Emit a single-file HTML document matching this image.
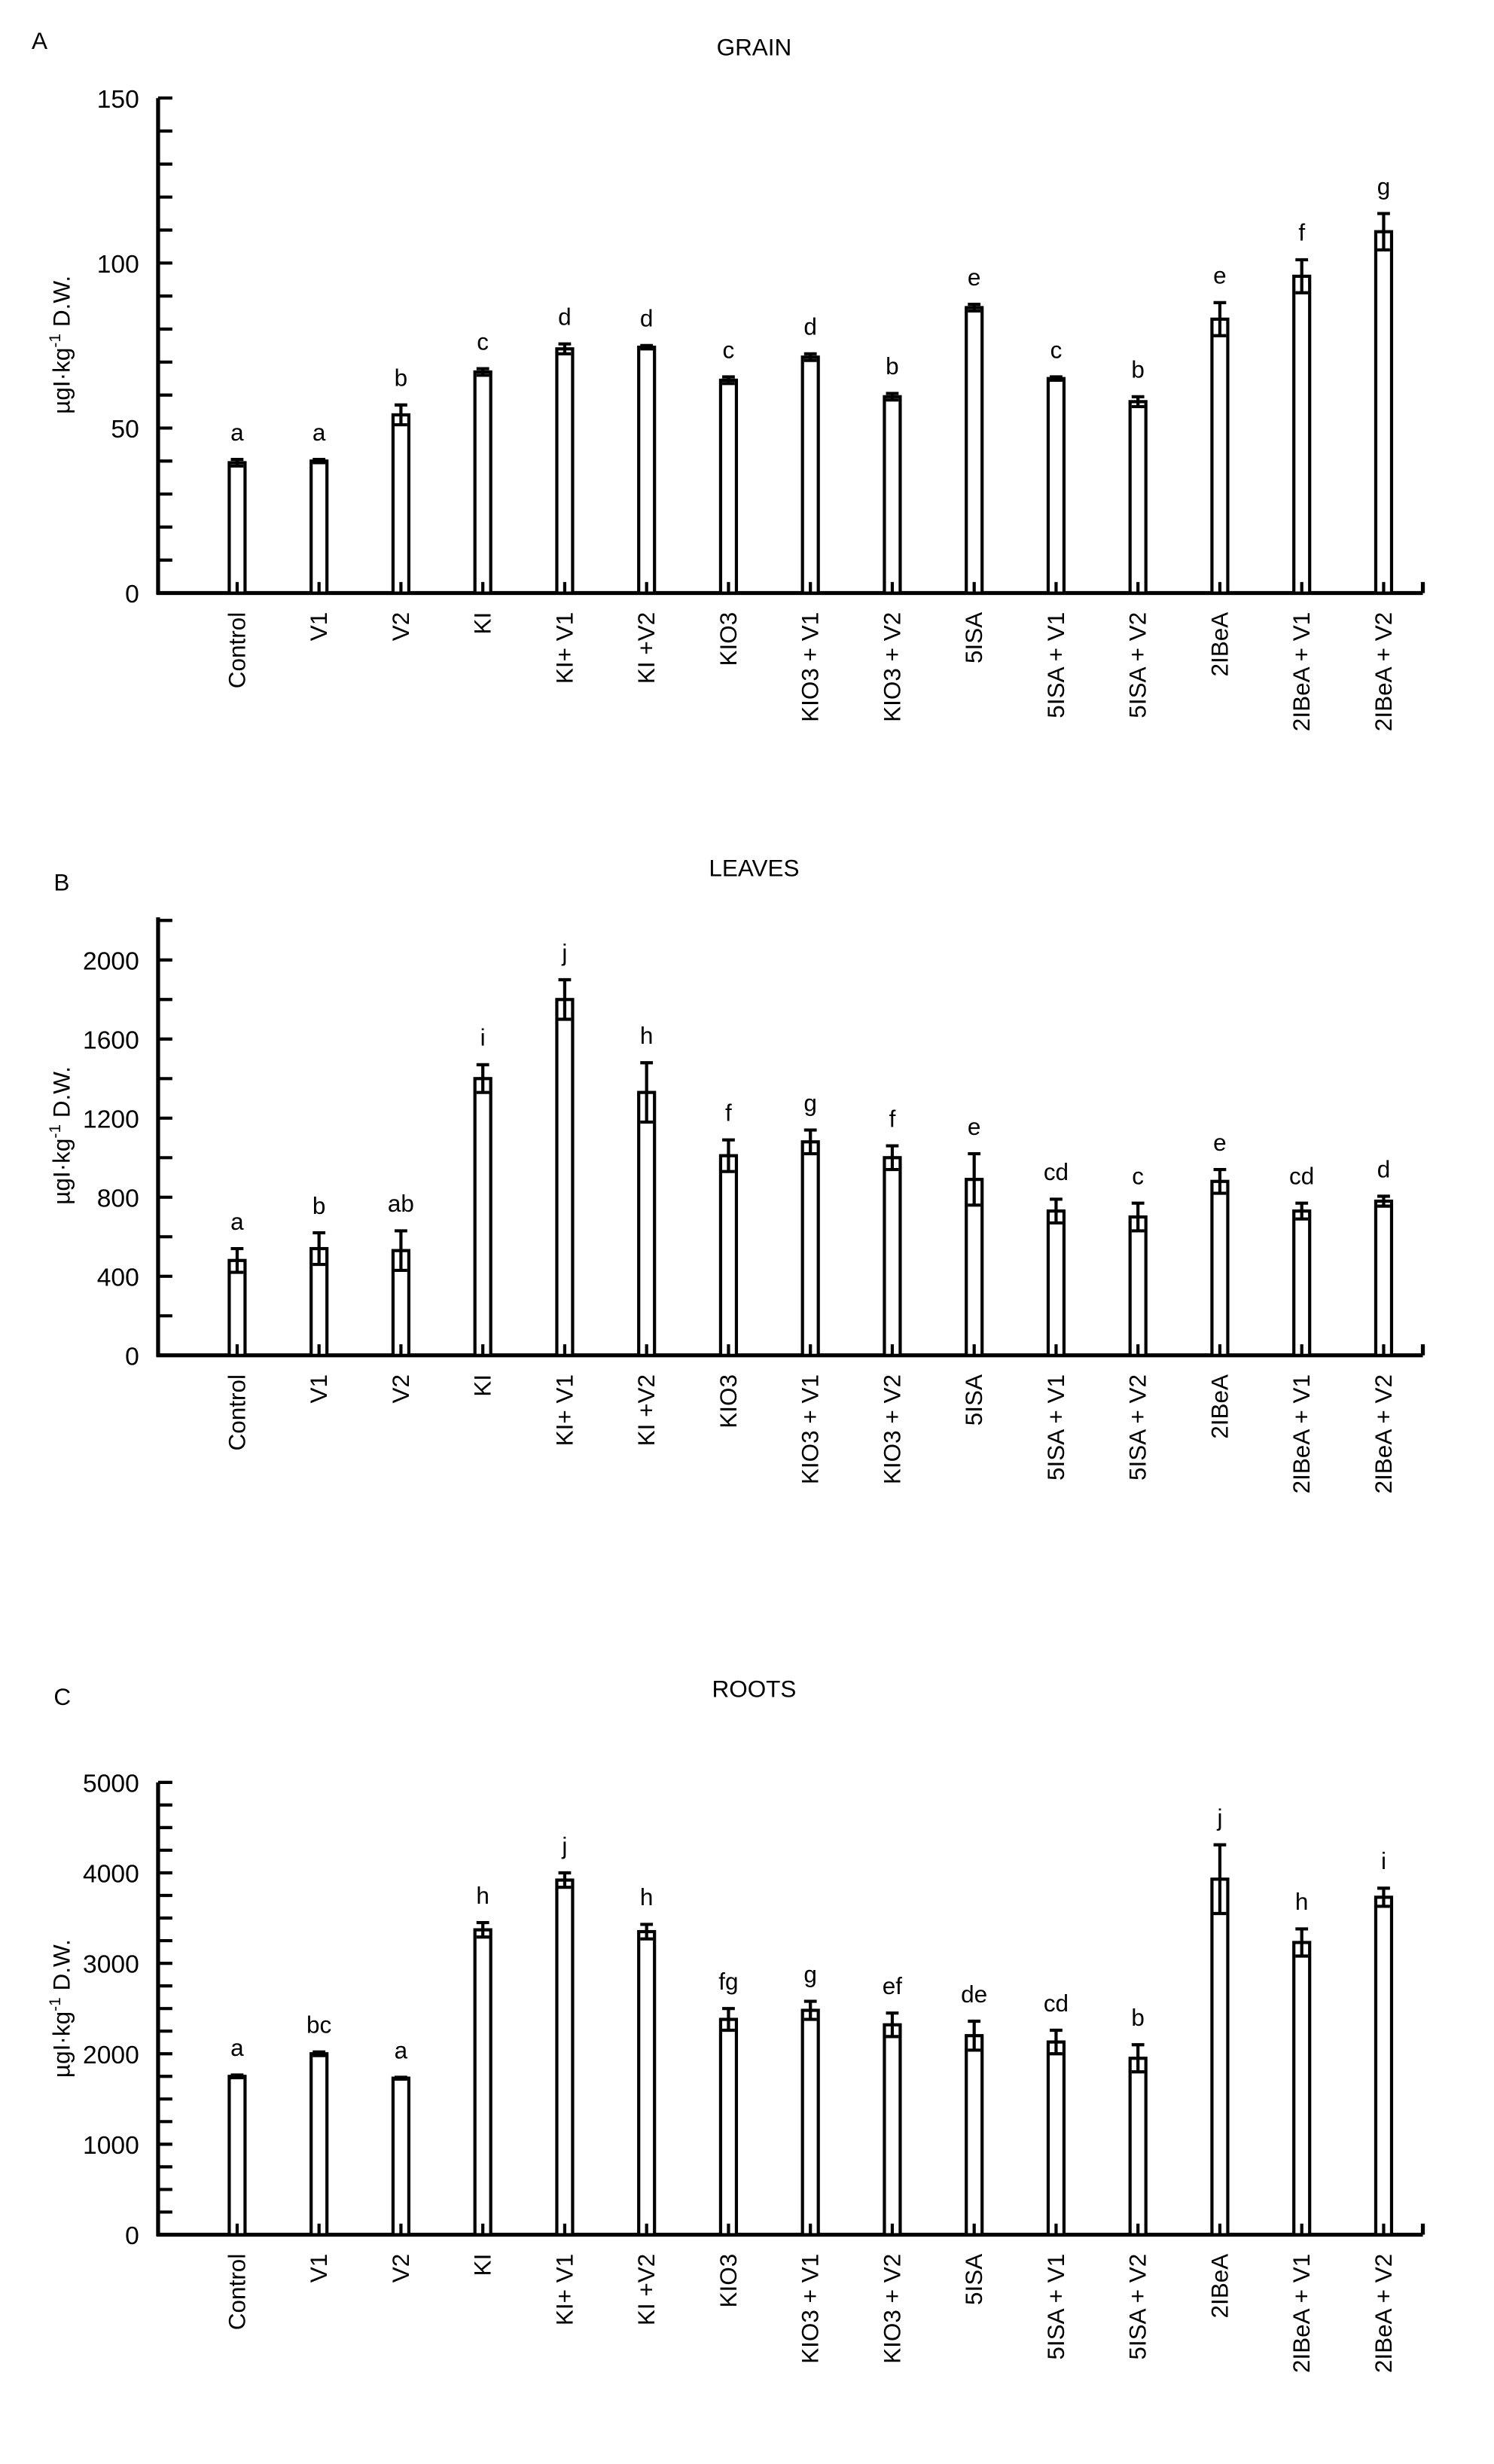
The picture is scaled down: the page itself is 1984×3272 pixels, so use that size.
<!DOCTYPE html>
<html><head><meta charset="utf-8"><style>
html,body{margin:0;padding:0;background:#fff}
svg{display:block}
text{font-family:"Liberation Sans",Arial,sans-serif;fill:#000}
</style></head><body>
<svg id="fig" xmlns="http://www.w3.org/2000/svg" width="1984" height="3272" viewBox="0 0 945 1558" preserveAspectRatio="none"></svg>
<script>
const categories=["Control","V1","V2","KI","KI+ V1","KI +V2","KIO3","KIO3 + V1","KIO3 + V2","5ISA","5ISA + V1","5ISA + V2","2IBeA","2IBeA + V1","2IBeA + V2"];
const grainValues=[39.5,40,54,67,74,74.5,64.5,71.5,59.5,86.5,65,58,83,96,109.5];
const grainErrors=[1,0.5,3,1,1.5,0.5,1,1,1,1,0.5,1.5,5,5,5.5];
const grainLetters=["a","a","b","c","d","d","c","d","b","e","c","b","e","f","g"];
const grainTicks=[0,50,100,150];
const leavesValues=[480,540,530,1400,1800,1330,1010,1080,1000,890,730,700,880,730,780];
const leavesErrors=[60,80,100,70,100,150,80,60,60,130,60,70,60,40,25];
const leavesLetters=["a","b","ab","i","j","h","f","g","f","e","cd","c","e","cd","d"];
const leavesTicks=[0,400,800,1200,1600,2000];
const rootsValues=[1750,2000,1730,3370,3920,3350,2380,2480,2320,2200,2130,1950,3930,3230,3730];
const rootsErrors=[15,20,10,80,80,80,120,100,130,160,130,150,380,150,100];
const rootsLetters=["a","bc","a","h","j","h","fg","g","ef","de","cd","b","j","h","i"];
const rootsTicks=[0,1000,2000,3000,4000,5000];

const NS="http://www.w3.org/2000/svg";
const svg=document.getElementById('fig');
function mk(tag,attrs,parent,txt){const e=document.createElementNS(NS,tag);for(const k in attrs)e.setAttribute(k,attrs[k]);if(txt!==undefined)e.textContent=txt;(parent||svg).appendChild(e);return e;}

function panel(cfg){
  const g=mk('g',{});
  
  
  const x0=100,x1=900,yTop=cfg.yTop,yZero=cfg.yZero,max=cfg.max;
  const ys=v=>yZero-(v/max)*(yZero-yTop);
  const xs=i=>150+i*51.8;
  const pl=mk('text',{x:cfg.letterX,y:cfg.letterY,'font-size':15},g,cfg.letter);
  
  
  const t=mk('text',{x:477,y:cfg.titleY,'font-size':15,'text-anchor':'middle'},g,cfg.title);
  
  
  const ay=mk('line',{x1:x0,y1:yTop,x2:x0,y2:yZero+1,stroke:'#000','stroke-width':2.5},g);
  
  
  const ax=mk('line',{x1:x0-1,y1:yZero,x2:x1,y2:yZero,stroke:'#000','stroke-width':2.5},g);
  
  
  mk('line',{x1:x1,y1:yZero,x2:x1,y2:yZero-7,stroke:'#000','stroke-width':2.5},g);
  for(let v=0;v<=max+1e-9;v+=cfg.minor){
    const tk=mk('line',{x1:x0,y1:ys(v),x2:x0+9,y2:ys(v),stroke:'#000','stroke-width':2},g);
    
    
  }
  cfg.ticks.forEach(v=>{
    const tl=mk('text',{x:x0-12,y:ys(v)+6,'font-size':16,'text-anchor':'end'},g,String(v));
    
    
  });
  const yt=mk('text',{transform:`translate(44,${cfg.yTitleY}) rotate(-90)`,'font-size':15,'text-anchor':'middle'},g);
  
  
  mk('tspan',{},yt,'µgI·kg');
  mk('tspan',{dy:-6,'font-size':10},yt,'-1');
  mk('tspan',{dy:6},yt,' D.W.');
  categories.forEach((c,i)=>{
    const cx=xs(i),v=cfg.values[i],e=cfg.errors[i],top=ys(v);
    const b=mk('rect',{x:cx-5,y:top,width:10,height:yZero-top,fill:'#fff',stroke:'#000','stroke-width':2},g);
    
    
    mk('line',{x1:cx,y1:yZero,x2:cx,y2:yZero-7,stroke:'#000','stroke-width':2},g);
    const eg=mk('g',{stroke:'#000','stroke-width':2},g);
    
    
    mk('line',{x1:cx,y1:ys(v+e),x2:cx,y2:ys(v-e)},eg);
    mk('line',{x1:cx-4,y1:ys(v+e),x2:cx+4,y2:ys(v+e)},eg);
    mk('line',{x1:cx-4,y1:ys(v-e),x2:cx+4,y2:ys(v-e)},eg);
    const lt=mk('text',{x:cx,y:ys(v+e)-12,'font-size':15,'text-anchor':'middle'},g,cfg.letters[i]);
    
    
    const xl=mk('text',{transform:`translate(${cx+5},${yZero+12}) rotate(-90)`,'font-size':15,'text-anchor':'end'},g,c);
    
    
  });
}
panel({name:'grain',title:'GRAIN',letter:'A',letterX:20,letterY:31,titleY:35,yTop:62,yZero:375,max:150,minor:10,ticks:grainTicks,values:grainValues,errors:grainErrors,letters:grainLetters,yTitleY:218});
panel({name:'leaves',title:'LEAVES',letter:'B',letterX:34,letterY:563,titleY:554,yTop:580,yZero:857,max:2216,minor:200,ticks:leavesTicks,values:leavesValues,errors:leavesErrors,letters:leavesLetters,yTitleY:718});
panel({name:'roots',title:'ROOTS',letter:'C',letterX:34,letterY:1078,titleY:1073,yTop:1127,yZero:1413,max:5000,minor:250,ticks:rootsTicks,values:rootsValues,errors:rootsErrors,letters:rootsLetters,yTitleY:1270});
</script>
</body></html>
